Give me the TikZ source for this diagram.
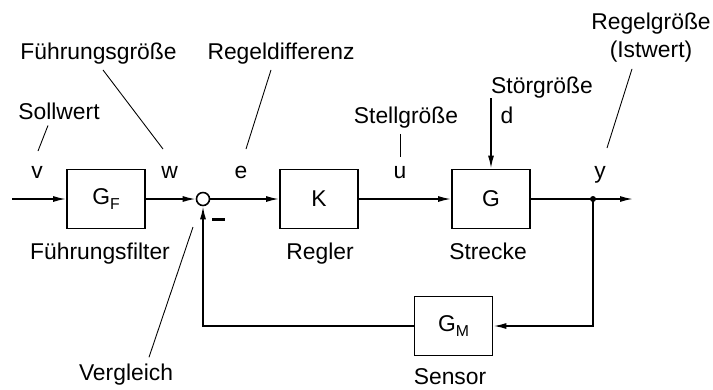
\documentclass[tikz,border=0pt]{standalone}
\usepackage{fontspec}
\setmainfont{Liberation Sans}
\usepackage{tikz}
\usetikzlibrary{arrows.meta}
\usetikzlibrary{positioning}
\newcommand*\subidx[1]{\raisebox{-0.1cm}{\fontsize{9}{9}\selectfont #1}}
\tikzset{
    every node/.style = {font=\fontsize{13}{16}\selectfont},
    block/.style = {draw,line width=1pt,minimum width=1.56cm,minimum height=1.18cm,inner sep=0},
    sumpt/.style = {draw,line width=0.9pt,circle,minimum size=0.26cm,inner sep=0},
    junct/.style = {circle,fill,inner sep=0,minimum size=0.12cm}
}
\tikzset{
    sig/.style = {line width=0.9pt,-{Latex[length=2.6mm,width=1.2mm]}},
    pointer/.style = {line width=0.5pt}
}
\begin{document}
\begin{tikzpicture}
    \newcommand*\ymain{-3.98}
    \newcommand*\yfb{-6.52}
    \newcommand*\yvar{-3.56}
    \useasboundingbox (0,0) rectangle (14.26,-7.78);
    % Blocks
    \path (2.12,\ymain) node[block] (GF) {G\subidx{F}}
        to +(4.26,0) node[block] (K) {K}
        to +(7.70,0) node[block] (G) {G}
    ;
    \path (4.06,\ymain) node[sumpt] (sum) {};
    \path (9.07,\yfb) node[block] (GM) {G\subidx{M}};
    % Signal points
    \coordinate (in) at (0.24,\ymain);
    \coordinate (split) at (11.86,\ymain);
    \coordinate (out) at (12.66,\ymain);
    \coordinate (dist) at (9.82,-1.96);
    % Signals
    \foreach \src/\dest in {in/GF,GF/sum,sum/K,K/G,G/out,dist/G}
        \draw[sig] (\src) -- (\dest);
    \draw[sig] (split) |- (GM);
    \draw[sig] (GM) -| (sum);
    \node[junct] (yjunct) at (split) {};
    \node[inner sep=0] (minus) at (4.37,-4.38) {\rule{0.26cm}{0.06cm}};
    % Variables
    \foreach \name/\x in {v/0.74,w/3.39,e/4.82,u/8.0,y/12.0}
        \node[anchor=base] (\name) at (\x,\yvar) {\name};
    \node[anchor=base] (d) at (10.14,-2.46) {d};
    % Names
    \node[anchor=base] (soll) at (1.18,-2.38) {Sollwert};
    \node[anchor=base] (fg) at (1.97,-1.18) {Führungsgröße};
    \node[anchor=base] (rd) at (5.62,-1.18) {Regeldifferenz};
    \node[anchor=base] (sg) at (8.12,-2.46) {Stellgröße};
    \node[anchor=base] (stg) at (10.84,-1.86) {Störgröße};
    \node[align=center] (rg) at (13.02,-0.76) {Regelgröße\\(Istwert)};
    \node[anchor=base] (ff) at (2.00,-5.18) {Führungsfilter};
    \node[anchor=base] (regler) at (6.40,-5.18) {Regler};
    \node[anchor=base] (strecke) at (9.76,-5.18) {Strecke};
    \node[anchor=base] (sensor) at (9.00,-7.68) {Sensor};
    \node[anchor=base] (vgl) at (2.52,-7.60) {Vergleich};
    % Pointers
    \coordinate (solltip) at (0.76,-3.02);
    \coordinate (fgtip) at (3.26,-2.98);
    \coordinate (rdtip) at (4.92,-2.98);
    \coordinate (sgtip) at (8.0,-3.14);
    \coordinate (rgtip) at (12.14,-2.96);
    \coordinate (vgltip) at (3.86,-4.54);
    \draw[pointer] ([xshift=-0.22cm]soll.south) -- (solltip);
    \draw[pointer] ([xshift=0.09cm]fg.south) -- (fgtip);
    \draw[pointer] ([xshift=-0.2cm]rd.south) -- (rdtip);
    \draw[pointer] (sgtip |- sg.south) -- (sgtip);
    \draw[pointer] ([xshift=-0.38cm]rg.south) -- (rgtip);
    \draw[pointer] ([xshift=0.46cm]vgl.north) -- (vgltip);
\end{tikzpicture}
\end{document}
